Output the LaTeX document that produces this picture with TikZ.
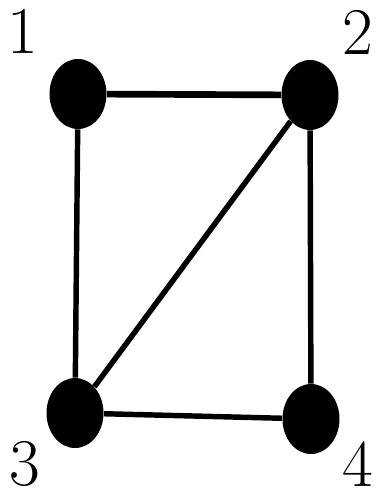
\documentclass[tikz,border=0pt]{standalone}
\usetikzlibrary{shapes.geometric}

\begin{document}
\begin{tikzpicture}[x=0.02cm, y=-0.02cm,
    vertex/.style={ellipse, fill=black, minimum width=1.14cm, minimum height=1.4cm, inner sep=0pt},
    edge/.style={line width=3.1pt},
    tag/.style={font=\fontsize{38}{46}\selectfont, inner sep=0pt}]
    \useasboundingbox (0,0) rectangle (377,499);

    % Vertices
    \node[vertex] (v1) at (78,94) {};
    \node[vertex] (v2) at (310,95) {};
    \node[vertex] (v3) at (75,413) {};
    \node[vertex] (v4) at (311,419) {};

    % Edges
    \draw[edge, line width=3.8pt] (v1) -- (v2);
    \draw[edge] (v1) -- (v3);
    \draw[edge] (v2) -- (v3);
    \draw[edge] (v2) -- (v4);
    \draw[edge] (v3) -- (v4);

    % Labels
    \node[tag] (l1) at (23,31) {1};
    \node[tag] (l2) at (358,32) {2};
    \node[tag] (l3) at (25,464) {3};
    \node[tag] (l4) at (358,464) {4};
\end{tikzpicture}
\end{document}
